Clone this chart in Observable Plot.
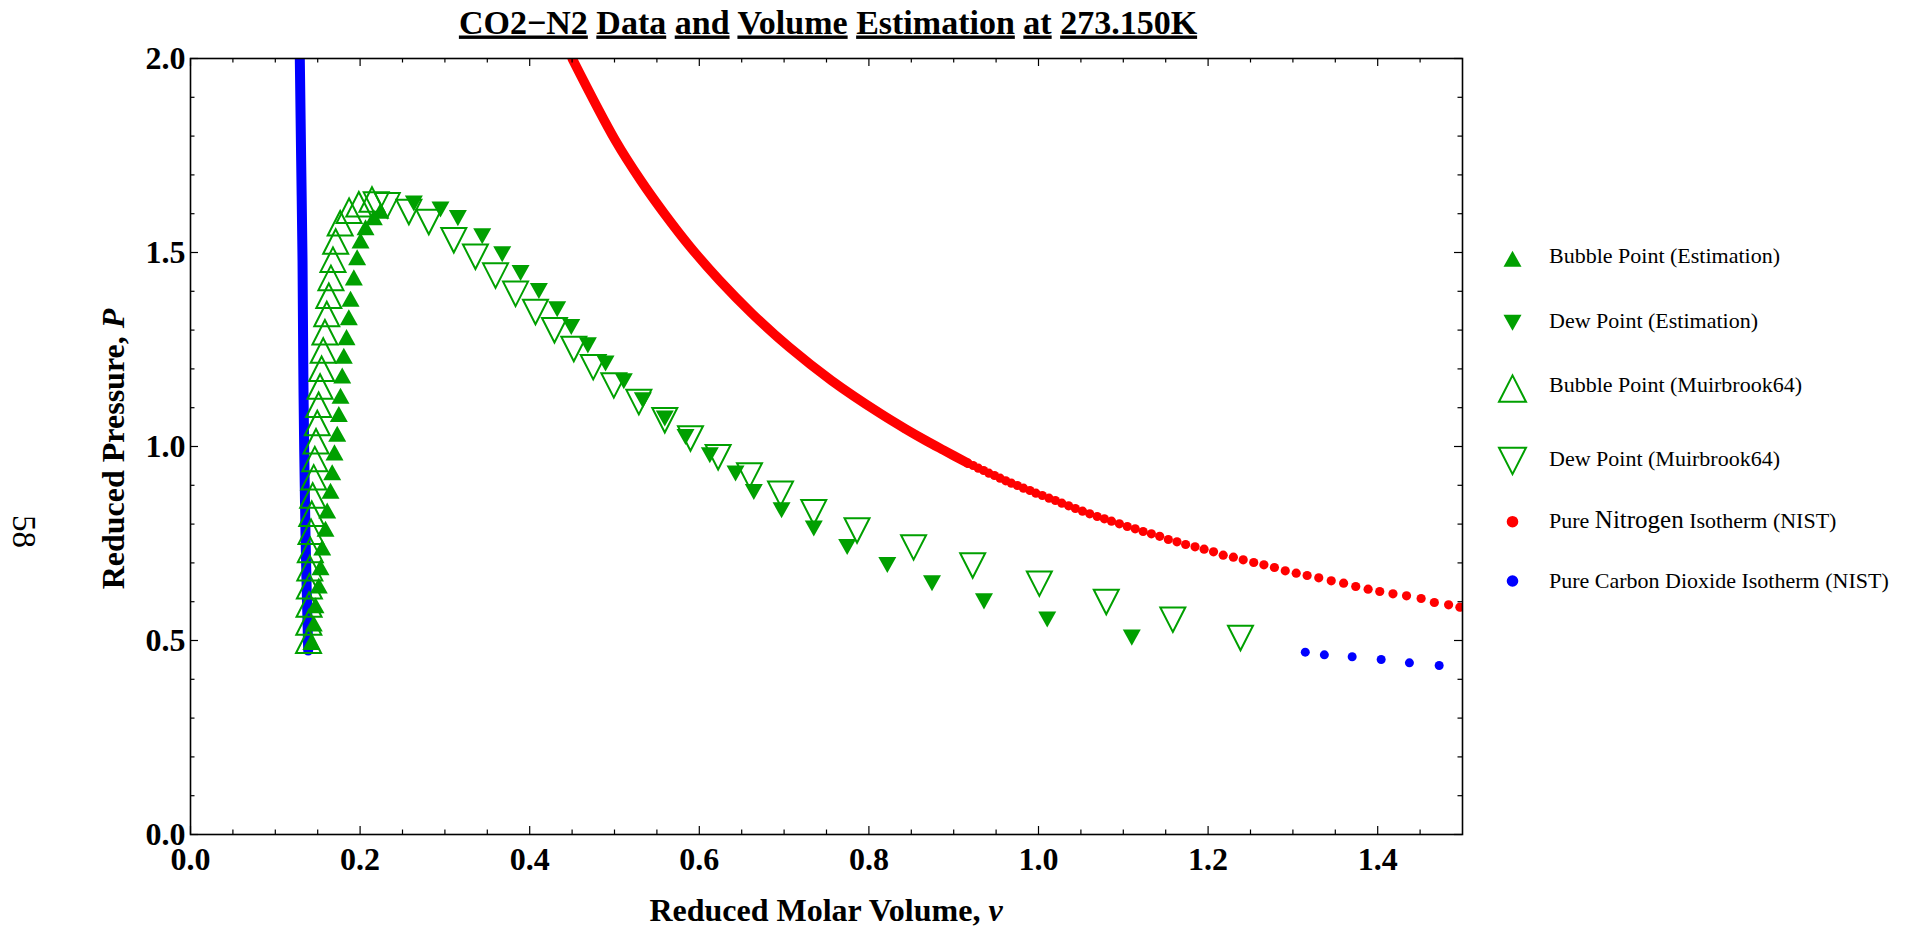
<!DOCTYPE html>
<html><head><meta charset="utf-8">
<script src="https://cdn.jsdelivr.net/npm/d3@7"></script>
<script src="https://cdn.jsdelivr.net/npm/@observablehq/plot@0.6"></script>
<style>
html,body{margin:0;padding:0;background:#fff;overflow:hidden;}
#wrap{position:relative;width:1910px;height:937px;}
#wrap > svg{position:absolute;left:0;top:0;}
</style></head><body><div id="wrap"></div>
<script>
// ---------- data (reduced molar volume v, reduced pressure P) ----------
const bubbleEstV = [0.1425,0.1454,0.1474,0.1513,0.1533,0.1553,0.1592,0.1612,0.1651,0.1671,0.1698,0.1730,0.1749,0.1769,0.1789,0.1808,0.1840,0.1867,0.1887,0.1926,0.1965,0.2005,0.2064,0.2162,0.2240];
const bubbleEstP = [0.489,0.537,0.584,0.635,0.682,0.733,0.781,0.828,0.879,0.927,0.978,1.026,1.077,1.124,1.176,1.227,1.275,1.326,1.374,1.429,1.481,1.524,1.558,1.584,1.601];

const dewEstV = [0.2634,0.2948,0.3153,0.3440,0.3676,0.3892,0.4108,0.4324,0.4490,0.4686,0.4894,0.5110,0.5334,0.5593,0.5837,0.6124,0.6427,0.6643,0.6970,0.7350,0.7744,0.8217,0.8744,0.9357,1.0103,1.1100];
const dewEstP = [1.633,1.6175,1.5955,1.5485,1.5025,1.454,1.4075,1.3605,1.315,1.2675,1.2206,1.175,1.126,1.0788,1.0315,0.9843,0.937,0.8895,0.8425,0.7955,0.748,0.7016,0.6544,0.6077,0.5608,0.5143];

const bubbleExpV = [0.1392,0.1395,0.1398,0.1402,0.1407,0.1413,0.1421,0.1430,0.1441,0.1453,0.1466,0.1480,0.1495,0.1511,0.1528,0.1546,0.1565,0.1585,0.1607,0.1631,0.1656,0.1680,0.1712,0.1765,0.1870,0.1985,0.2140];
const bubbleExpP = [0.489,0.536,0.582,0.629,0.676,0.723,0.770,0.816,0.863,0.910,0.957,1.003,1.050,1.097,1.144,1.190,1.237,1.284,1.331,1.378,1.424,1.471,1.518,1.565,1.597,1.614,1.626];

const dewExpV = [0.2190,0.2320,0.2575,0.2810,0.3105,0.3360,0.3597,0.3833,0.4068,0.4292,0.4520,0.4749,0.4992,0.5287,0.5593,0.5896,0.6222,0.6592,0.6958,0.7350,0.7860,0.8527,0.9224,1.0010,1.0799,1.1584,1.2382];
const dewExpP = [1.634,1.632,1.615,1.589,1.542,1.4995,1.451,1.404,1.357,1.310,1.262,1.215,1.168,1.125,1.078,1.031,0.983,0.936,0.889,0.841,0.794,0.7505,0.704,0.657,0.6097,0.5642,0.517];

// Pure nitrogen isotherm (NIST): dense section read as a curve, sparse section as dots
const n2CurveV = [0.4501,0.5010,0.5310,0.5590,0.5896,0.6240,0.6625,0.7060,0.7560,0.8140,0.8430,0.8670,0.8880,0.9166];
const n2CurveP = [2.000,1.789,1.6856,1.5997,1.5137,1.4278,1.342,1.256,1.170,1.0843,1.0456,1.0155,0.9905,0.957];
const n2DotV = [0.9166,0.9229,0.929,0.9353,0.9415,0.9481,0.9547,0.9614,0.968,0.9751,0.9823,0.9899,0.9969,1.0045,1.0124,1.0199,1.0275,1.0355,1.0435,1.0519,1.0604,1.0692,1.0777,1.0861,1.0954,1.1047,1.114,1.1234,1.1331,1.1429,1.1531,1.1633,1.1735,1.1846,1.1953,1.2064,1.2178,1.2298,1.2414,1.2538,1.2658,1.2782,1.291,1.3039,1.3168,1.3305,1.3452,1.3598,1.3741,1.3887,1.4024,1.418,1.434,1.4512,1.4668,1.4836,1.4969];
const n2DotP = [0.957,0.951,0.9441,0.9381,0.9312,0.9253,0.9184,0.9116,0.9055,0.8995,0.8926,0.8866,0.8797,0.8737,0.8668,0.8608,0.8539,0.8471,0.8402,0.8333,0.8265,0.8196,0.8136,0.8075,0.8007,0.7938,0.7878,0.7809,0.775,0.7685,0.7603,0.7543,0.7474,0.7414,0.7354,0.7285,0.7199,0.7147,0.708,0.701,0.695,0.6881,0.6796,0.6735,0.6675,0.6615,0.6538,0.6478,0.6392,0.6323,0.6263,0.6203,0.6151,0.6082,0.598,0.592,0.5859];

// Pure carbon dioxide isotherm (NIST): liquid branch (dense) and vapour dots
const co2LiqV = [0.1289,0.1305,0.1321,0.1333,0.1356,0.1388];
const co2LiqP = [2.000,1.737,1.479,1.136,0.775,0.474];
const co2VapV = [1.3146,1.3371,1.3699,1.4041,1.4374,1.4725];
const co2VapP = [0.4699,0.4631,0.458,0.451,0.4425,0.4356];

const xMajor = [0, 0.2, 0.4, 0.6, 0.8, 1.0, 1.2, 1.4];
const xMinor = [0.05,0.1,0.15,0.25,0.3,0.35,0.45,0.5,0.55,0.65,0.7,0.75,0.85,0.9,0.95,1.05,1.1,1.15,1.25,1.3,1.35,1.45];
const yMajor = [0, 0.5, 1.0, 1.5, 2.0];
const yMinor = [0.1,0.2,0.3,0.4,0.6,0.7,0.8,0.9,1.1,1.2,1.3,1.4,1.6,1.7,1.8,1.9];

const titleWords = ["CO2\u2212N2", "Data", "and", "Volume", "Estimation", "at", "273.150K"];
const legendLabels = ["Bubble Point (Estimation)", "Dew Point (Estimation)", "Bubble Point (Muirbrook64)", "Dew Point (Muirbrook64)", "Pure Nitrogen Isotherm (NIST)", "Pure Carbon Dioxide Isotherm (NIST)"];

// ---------- build ----------
const zip = (V, P) => V.map((v, i) => ({v, P: P[i]}));
const bubbleEst = zip(bubbleEstV, bubbleEstP);
const dewEst = zip(dewEstV, dewEstP);
const bubbleExp = zip(bubbleExpV, bubbleExpP);
const dewExp = zip(dewExpV, dewExpP);
const n2Curve = zip(n2CurveV, n2CurveP);
const n2Dots = zip(n2DotV, n2DotP);
const co2Liq = zip(co2LiqV, co2LiqP);
const co2Vap = zip(co2VapV, co2VapP);

const GREEN = "#00a000", RED = "#ff0000", BLUE = "#0000ff";
const FONT = "Liberation Serif, Times New Roman, serif";

function triangle(pointsUp, ratio) {
  return {draw(ctx, size) {
    const w = 2 * Math.sqrt(size / Math.PI), h = w * ratio, s = pointsUp ? -1 : 1;
    ctx.moveTo(0, s * 2 * h / 3);
    ctx.lineTo(w / 2, -s * h / 3);
    ctx.lineTo(-w / 2, -s * h / 3);
    ctx.closePath();
  }};
}
const filledUp = triangle(true, 0.89), filledDown = triangle(false, 0.89);
const openUp = triangle(true, 0.98), openDown = triangle(false, 0.98);
const R_FILLED = 9, R_OPEN = 12.5;

const W = 1910, H = 937, mL = 190, mR = 448, mT = 58, mB = 103;
const iw = W - mL - mR, ih = H - mT - mB;
const MAJ = 8, MIN = 4.5;

const plot = Plot.plot({
  width: W, height: H,
  marginLeft: mL, marginRight: mR, marginTop: mT, marginBottom: mB,
  x: {domain: [0, 1.5], label: null},
  y: {domain: [0, 2], label: null},
  style: {fontFamily: FONT, background: "white", color: "black"},
  marks: [
    Plot.line(co2Liq, {x: "v", y: "P", stroke: BLUE, strokeWidth: 10, strokeLinecap: "round", curve: "catmull-rom", clip: true}),
    Plot.line(n2Curve, {x: "v", y: "P", stroke: RED, strokeWidth: 9.5, strokeLinecap: "round", curve: "catmull-rom", clip: true}),
    Plot.dot(n2Dots, {x: "v", y: "P", r: 4.6, fill: RED, stroke: "none", clip: true}),
    Plot.dot(co2Vap, {x: "v", y: "P", r: 4.5, fill: BLUE, stroke: "none", clip: true}),
    Plot.dot(bubbleEst, {x: "v", y: "P", symbol: filledUp, r: R_FILLED, fill: GREEN, stroke: "none"}),
    Plot.dot(dewEst, {x: "v", y: "P", symbol: filledDown, r: R_FILLED, fill: GREEN, stroke: "none"}),
    Plot.dot(bubbleExp, {x: "v", y: "P", symbol: openUp, r: R_OPEN, fill: "none", stroke: GREEN, strokeWidth: 2}),
    Plot.dot(dewExp, {x: "v", y: "P", symbol: openDown, r: R_OPEN, fill: "none", stroke: GREEN, strokeWidth: 2}),
    // inward ticks on all four sides
    Plot.tickX(xMajor, {x: d => d, insetTop: ih - MAJ, stroke: "#000", strokeWidth: 1.2}),
    Plot.tickX(xMinor, {x: d => d, insetTop: ih - MIN, stroke: "#000", strokeWidth: 1.2}),
    Plot.tickX(xMajor, {x: d => d, insetBottom: ih - MAJ, stroke: "#000", strokeWidth: 1.2}),
    Plot.tickX(xMinor, {x: d => d, insetBottom: ih - MIN, stroke: "#000", strokeWidth: 1.2}),
    Plot.tickY(yMajor, {y: d => d, insetRight: iw - MAJ, stroke: "#000", strokeWidth: 1.2}),
    Plot.tickY(yMinor, {y: d => d, insetRight: iw - MIN, stroke: "#000", strokeWidth: 1.2}),
    Plot.tickY(yMajor, {y: d => d, insetLeft: iw - MAJ, stroke: "#000", strokeWidth: 1.2}),
    Plot.tickY(yMinor, {y: d => d, insetLeft: iw - MIN, stroke: "#000", strokeWidth: 1.2}),
    Plot.frame({stroke: "#000", strokeWidth: 1.6}),
    Plot.axisX(xMajor, {anchor: "bottom", tickSize: 0, tickPadding: 13, tickFormat: d => d.toFixed(1), fontSize: 32, fontWeight: "bold", fontFamily: FONT, label: null}),
    Plot.axisY(yMajor, {anchor: "left", tickSize: 0, tickPadding: 5, tickFormat: d => d.toFixed(1), fontSize: 32, fontWeight: "bold", fontFamily: FONT, label: null})
  ]
});
document.getElementById("wrap").appendChild(plot);

// ---------- overlay: title, axis labels, legend, page number ----------
const ov = d3.create("svg").attr("width", W).attr("height", H).style("pointer-events", "none")
  .attr("font-family", FONT);

const title = ov.append("text").attr("x", 828).attr("y", 33.5).attr("text-anchor", "middle")
  .attr("font-weight", "bold").attr("font-size", 34);
titleWords.forEach((w, i) => {
  if (i) title.append("tspan").text(" ");
  title.append("tspan").style("text-decoration", "underline").text(w);
});

const xl = ov.append("text").attr("x", 826).attr("y", 921).attr("text-anchor", "middle")
  .attr("font-weight", "bold").attr("font-size", 32);
xl.append("tspan").text("Reduced Molar Volume, ");
xl.append("tspan").attr("font-style", "italic").text("v");

const yl = ov.append("text").attr("transform", "translate(124,449) rotate(-90)").attr("text-anchor", "middle")
  .attr("font-weight", "bold").attr("font-size", 32);
yl.append("tspan").text("Reduced Pressure, ");
yl.append("tspan").attr("font-style", "italic").text("P");

ov.append("text").attr("transform", "translate(13,531.5) rotate(90)").attr("text-anchor", "middle")
  .attr("font-size", 33).text("58");

const legX = 1512.5, legTextX = 1549;
const legBase = [263.3, 328, 391.7, 466, 528, 588];
const legMark = [
  {sym: filledUp, r: R_FILLED, y: 261.5, fill: GREEN, stroke: "none"},
  {sym: filledDown, r: R_FILLED, y: 320, fill: GREEN, stroke: "none"},
  {sym: openUp, r: R_OPEN + 1, y: 393, fill: "none", stroke: GREEN},
  {sym: openDown, r: R_OPEN + 1, y: 456.5, fill: "none", stroke: GREEN},
  {sym: d3.symbolCircle, r: 5.8, y: 521.7, fill: RED, stroke: "none"},
  {sym: d3.symbolCircle, r: 5.8, y: 581, fill: BLUE, stroke: "none"}
];
legendLabels.forEach((lab, i) => {
  const m = legMark[i];
  ov.append("path").attr("d", d3.symbol(m.sym, m.r * m.r * Math.PI)())
    .attr("transform", `translate(${legX},${m.y})`)
    .attr("fill", m.fill).attr("stroke", m.stroke).attr("stroke-width", 2);
  const t = ov.append("text").attr("x", legTextX).attr("y", legBase[i]).attr("font-size", 22);
  if (lab.includes("Nitrogen")) {
    const [a, b] = lab.split("Nitrogen");
    t.append("tspan").text(a);
    t.append("tspan").attr("font-size", 25).text(" Nitrogen");
    t.append("tspan").text(b);
  } else t.text(lab);
});

document.getElementById("wrap").appendChild(ov.node());
</script></body></html>
